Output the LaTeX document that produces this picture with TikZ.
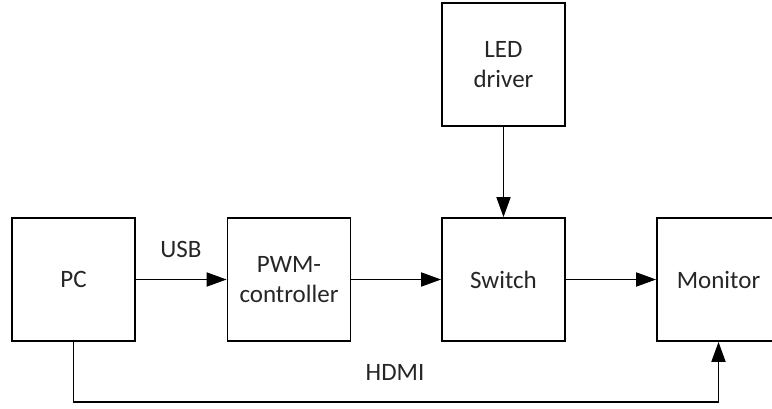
\documentclass[tikz,border=0pt]{standalone}
\usepackage{fontspec}
\setmainfont{Carlito}
\usetikzlibrary{arrows.meta}
\begin{document}
\begin{tikzpicture}[x=1pt,y=-1pt,
  blockbox/.style={draw=black,line width=1.8pt,minimum width=123pt,minimum height=123pt,inner sep=0pt,align=center,font=\fontsize{25}{30}\selectfont,text=black!85},
  conn/.style={line width=1.8pt,-{Triangle[length=20pt,width=14pt]}},
  lbl/.style={font=\fontsize{25}{30}\selectfont,text=black!85}]
\clip (0,0) rectangle (772,408);
\fill[white] (0,0) rectangle (772,408);
\node[blockbox] (pc) at (73.5,279.5) {PC};
\node[blockbox] (pwm) at (289,279.5) {PWM-\\controller};
\node[blockbox] (sw) at (503.5,279.5) {Switch};
\node[blockbox] (mon) at (718.5,279.5) {Monitor};
\node[blockbox] (led) at (503.5,64.5) {LED\\driver};
\coordinate (hl) at (73.5,402);
\coordinate (hr) at (718.5,402);
\draw[conn] (pc) -- (pwm);
\draw[conn] (pwm) -- (sw);
\draw[conn] (sw) -- (mon);
\draw[conn] (led) -- (sw);
\draw[conn] (pc.south) -- (hl) -- (hr) -- (mon.south);
\node[lbl] (usb) at (181,249) {USB};
\node[lbl] (hdmi) at (395,372) {HDMI};
\end{tikzpicture}
\end{document}
